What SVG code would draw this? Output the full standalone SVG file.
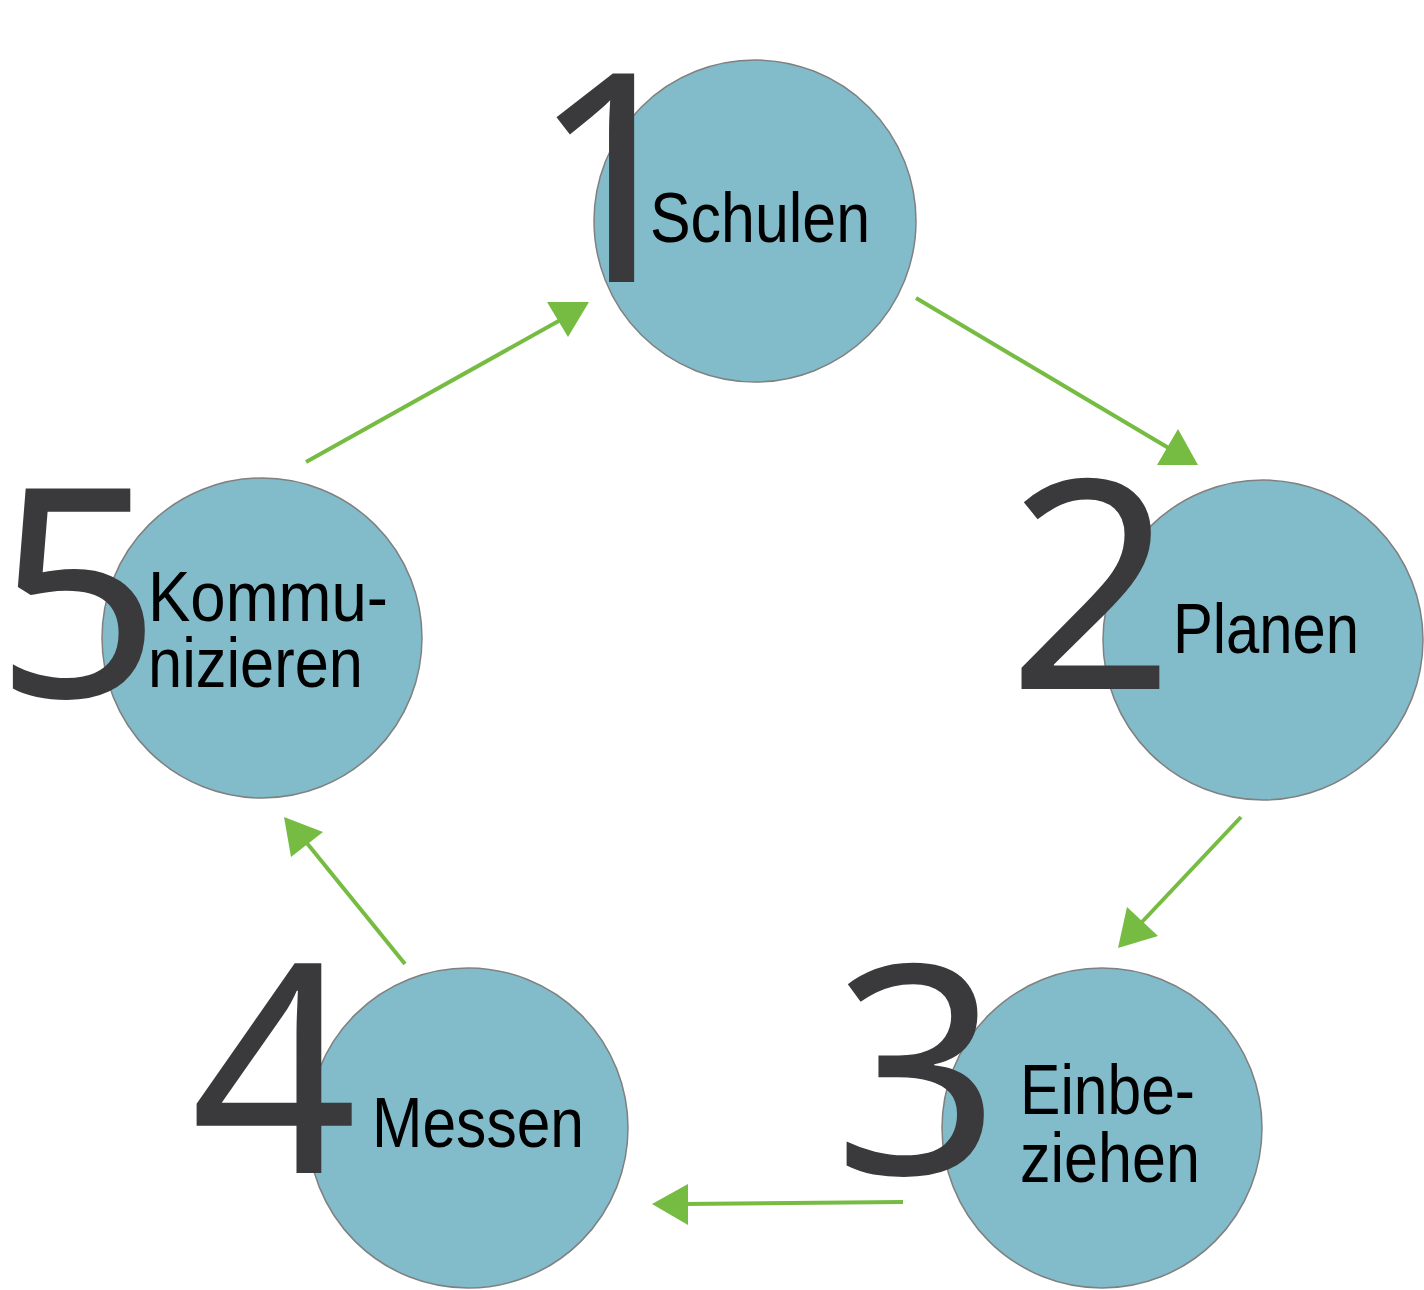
<svg xmlns="http://www.w3.org/2000/svg" width="1424" height="1290" viewBox="0 0 1424 1290">
<style>
.c{fill:#82BBCA;stroke:#808080;stroke-width:1.5}
.d{font-family:"Noto Sans","Open Sans",sans-serif;font-size:292px;fill:#3A3A3C;text-anchor:middle}
.t{font-family:"Liberation Sans",Arial,sans-serif;font-size:71px;fill:#000}
.l{stroke:#76BC43;stroke-width:4;fill:none}
.h{fill:#76BC43}
</style>
<rect width="1424" height="1290" fill="#fff"/>
<g id="connectors">
<line class="l" x1="916" y1="298" x2="1172" y2="450"/>
<polygon class="h" points="1157,465 1198,465 1178,429"/>
<line class="l" x1="1241" y1="817" x2="1142" y2="922"/>
<polygon class="h" points="1127,907 1158,936 1118,948"/>
<line class="l" x1="903" y1="1202" x2="684" y2="1204"/>
<polygon class="h" points="688,1184 688,1225 652,1204"/>
<line class="l" x1="405" y1="964" x2="306" y2="842"/>
<polygon class="h" points="284,817 323,832 291,857"/>
<line class="l" x1="306" y1="462" x2="564" y2="318"/>
<polygon class="h" points="547,302 589,302 568,337"/>
</g>
<g id="node1">
<circle class="c" cx="755" cy="221" r="161"/>
<text class="d" x="614" y="282">1</text>
<text class="t" x="650" y="242" textLength="220" lengthAdjust="spacingAndGlyphs">Schulen</text>
</g>
<g id="node2">
<circle class="c" cx="1263" cy="640" r="160"/>
<text class="d" x="1091" y="689">2</text>
<text class="t" x="1173" y="653" textLength="186" lengthAdjust="spacingAndGlyphs">Planen</text>
</g>
<g id="node3">
<circle class="c" cx="1102" cy="1128" r="160"/>
<text class="d" x="917" y="1174">3</text>
<text class="t" x="1020" y="1114" textLength="175" lengthAdjust="spacingAndGlyphs">Einbe-</text>
<text class="t" x="1020" y="1182" textLength="180" lengthAdjust="spacingAndGlyphs">ziehen</text>
</g>
<g id="node4">
<circle class="c" cx="468" cy="1128" r="160"/>
<text class="d" x="274" y="1173">4</text>
<text class="t" x="372" y="1147" textLength="212" lengthAdjust="spacingAndGlyphs">Messen</text>
</g>
<g id="node5">
<circle class="c" cx="262" cy="638" r="160"/>
<text class="d" x="78" y="697">5</text>
<text class="t" x="148" y="621" textLength="240" lengthAdjust="spacingAndGlyphs">Kommu-</text>
<text class="t" x="148" y="687" textLength="215" lengthAdjust="spacingAndGlyphs">nizieren</text>
</g>
</svg>
